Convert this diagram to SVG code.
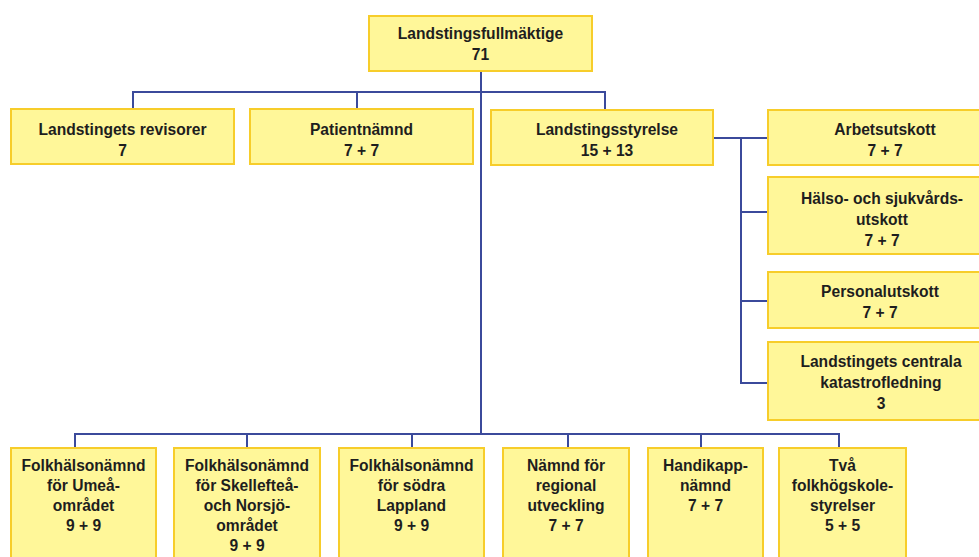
<svg xmlns="http://www.w3.org/2000/svg" width="979" height="557" viewBox="0 0 979 557">
<style>
.box{fill:#fff799;stroke:#f7cd2a;stroke-width:2}
.t{font-family:"Liberation Sans",Arial,sans-serif;font-weight:bold;font-size:15.6px;fill:#1e1e1e;text-anchor:middle}
.c{fill:none;stroke:#3b4a9b;stroke-width:2}
</style>
<rect width="979" height="557" fill="#ffffff"/>
<g id="connectors">
<path class="c" d="M481 71 V434"/>
<path class="c" d="M133 109 V92 H605 V110"/>
<path class="c" d="M357 92 V109"/>
<path class="c" d="M713 138 H768"/>
<path class="c" d="M741 138 V383 H768"/>
<path class="c" d="M741 212 H768"/>
<path class="c" d="M741 301 H768"/>
<path class="c" d="M75 448 V434 H839 V448"/>
<path class="c" d="M247 434 V448"/>
<path class="c" d="M412 434 V448"/>
<path class="c" d="M568 434 V448"/>
<path class="c" d="M701 434 V448"/>
</g>
<g id="n-fullmaktige"><rect class="box" x="369" y="16" width="223" height="55"/><text class="t" x="480.5" y="39">Landstingsfullmäktige</text><text class="t" x="480.5" y="60">71</text></g>
<g id="n-revisorer"><rect class="box" x="11" y="109" width="223" height="55"/><text class="t" x="122.5" y="135">Landstingets revisorer</text><text class="t" x="122.5" y="156">7</text></g>
<g id="n-patient"><rect class="box" x="250" y="109" width="223" height="55"/><text class="t" x="361.5" y="135">Patientnämnd</text><text class="t" x="361.5" y="156">7 + 7</text></g>
<g id="n-styrelse"><rect class="box" x="491" y="110" width="222" height="55"/><text class="t" x="607" y="135">Landstingsstyrelse</text><text class="t" x="607" y="156">15 + 13</text></g>
<g id="n-arbets"><rect class="box" x="768" y="110" width="226" height="55"/><text class="t" x="885" y="135">Arbetsutskott</text><text class="t" x="885" y="156">7 + 7</text></g>
<g id="n-halso"><rect class="box" x="768" y="177" width="226" height="77"/><text class="t" x="882" y="204">Hälso- och sjukvårds-</text><text class="t" x="882" y="225">utskott</text><text class="t" x="882" y="246">7 + 7</text></g>
<g id="n-personal"><rect class="box" x="768" y="272" width="226" height="56"/><text class="t" x="880" y="297">Personalutskott</text><text class="t" x="880" y="318">7 + 7</text></g>
<g id="n-katastrof"><rect class="box" x="768" y="342" width="226" height="78"/><text class="t" x="881" y="367">Landstingets centrala</text><text class="t" x="881" y="388">katastrofledning</text><text class="t" x="881" y="409">3</text></g>
<g id="n-umea"><rect class="box" x="11" y="448" width="145" height="120"/><text class="t" x="83.5" y="471">Folkhälsonämnd</text><text class="t" x="83.5" y="491">för Umeå-</text><text class="t" x="83.5" y="511">området</text><text class="t" x="83.5" y="531">9 + 9</text></g>
<g id="n-skelleftea"><rect class="box" x="174" y="448" width="146" height="120"/><text class="t" x="247" y="471">Folkhälsonämnd</text><text class="t" x="247" y="491">för Skellefteå-</text><text class="t" x="247" y="511">och Norsjö-</text><text class="t" x="247" y="531">området</text><text class="t" x="247" y="551">9 + 9</text></g>
<g id="n-lappland"><rect class="box" x="339" y="448" width="145" height="120"/><text class="t" x="411.5" y="471">Folkhälsonämnd</text><text class="t" x="411.5" y="491">för södra</text><text class="t" x="411.5" y="511">Lappland</text><text class="t" x="411.5" y="531">9 + 9</text></g>
<g id="n-regional"><rect class="box" x="503" y="448" width="126" height="120"/><text class="t" x="566" y="471">Nämnd för</text><text class="t" x="566" y="491">regional</text><text class="t" x="566" y="511">utveckling</text><text class="t" x="566" y="531">7 + 7</text></g>
<g id="n-handikapp"><rect class="box" x="648" y="448" width="115" height="120"/><text class="t" x="705.5" y="471">Handikapp-</text><text class="t" x="705.5" y="491">nämnd</text><text class="t" x="705.5" y="511">7 + 7</text></g>
<g id="n-folkhogskole"><rect class="box" x="779" y="448" width="127" height="120"/><text class="t" x="842.5" y="471">Två</text><text class="t" x="842.5" y="491">folkhögskole-</text><text class="t" x="842.5" y="511">styrelser</text><text class="t" x="842.5" y="531">5 + 5</text></g>
</svg>
